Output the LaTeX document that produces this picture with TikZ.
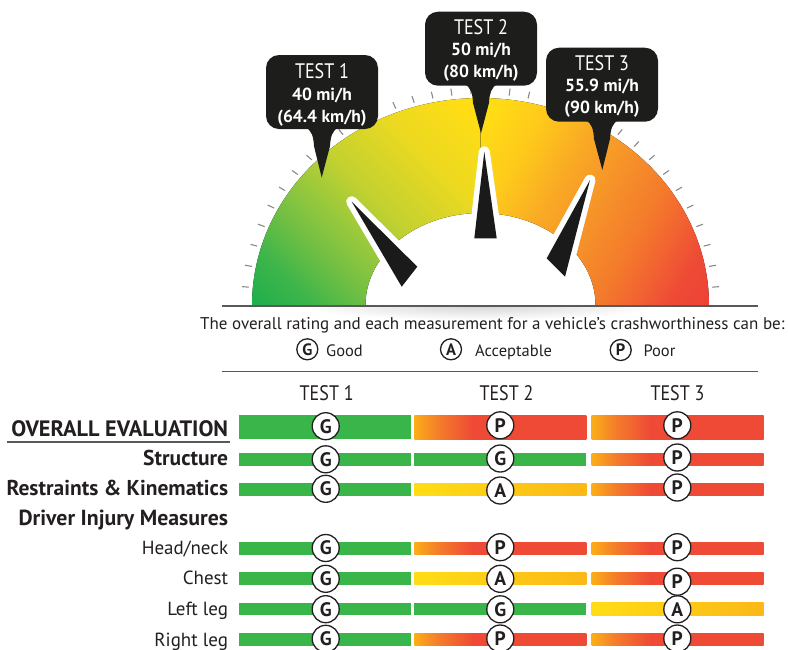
\documentclass[tikz,border=0pt]{standalone}
\usepackage{fontspec}
\setmainfont{PT Sans}
\newfontfamily\condfont[FakeStretch=0.86]{PT Sans}
\usetikzlibrary{calc}
\newcommand{\myfs}[1]{\fontsize{#1}{#1}\selectfont}
\definecolor{txt}{HTML}{231F20}
\definecolor{rulec}{HTML}{58595B}
\definecolor{tickgray}{HTML}{8A8A8A}
\definecolor{ndark}{HTML}{1A1A1A}
\definecolor{calloutc}{HTML}{1D1D1B}
\definecolor{barG}{HTML}{39B54A}
\definecolor{barR}{HTML}{EF4A36}
\definecolor{pOr}{HTML}{FBAE18}
\definecolor{pMid}{HTML}{F47D2A}
\definecolor{aY}{HTML}{FFDD15}
\definecolor{aO}{HTML}{FBB817}
\definecolor{gl0}{HTML}{1FAF4B}
\definecolor{gl1}{HTML}{3DB54A}
\definecolor{gl2}{HTML}{6EBE44}
\definecolor{gl3}{HTML}{8DC63F}
\definecolor{gl4}{HTML}{C3D130}
\definecolor{gl5}{HTML}{EDD920}
\definecolor{gl6}{HTML}{FFDD15}
\definecolor{gr0}{HTML}{FFDD15}
\definecolor{gr1}{HTML}{FEC91B}
\definecolor{gr2}{HTML}{F9A825}
\definecolor{gr3}{HTML}{F58A2A}
\definecolor{gr4}{HTML}{F47B2B}
\definecolor{gr5}{HTML}{F26531}
\definecolor{gr6}{HTML}{EE4A36}
\definecolor{gr7}{HTML}{EE4136}
\pgfdeclarehorizontalshading{gaugeL}{100bp}{color(0bp)=(gl0); color(34bp)=(gl0); color(38bp)=(gl1); color(42bp)=(gl2); color(45bp)=(gl3); color(50bp)=(gl4); color(57bp)=(gl5); color(63bp)=(gl6); color(100bp)=(gl6)}
\pgfdeclarehorizontalshading{gaugeR}{100bp}{color(0bp)=(gr0); color(41bp)=(gr0); color(46bp)=(gr1); color(51bp)=(gr2); color(57bp)=(gr3); color(60bp)=(gr4); color(63bp)=(gr5); color(66.5bp)=(gr6); color(70bp)=(gr7); color(100bp)=(gr7)}
\pgfdeclarehorizontalshading{poorbar}{100bp}{color(0bp)=(pOr); color(25bp)=(pOr); color(32bp)=(pMid); color(42bp)=(barR); color(100bp)=(barR)}
\pgfdeclarehorizontalshading{accbar}{100bp}{color(0bp)=(aY); color(25bp)=(aY); color(75bp)=(aO); color(100bp)=(aO)}
\newcommand{\callspike}[2]{%
  \fill[calloutc] ($(#1.south)+(-17,-2)$) .. controls ($(#1.south)+(-10,1)$) and ($(#1.south)+(-8.5,8)$) .. ($(#1.south)+(-8,17)$) -- (#2) -- ($(#1.south)+(8,17)$) .. controls ($(#1.south)+(8.5,8)$) and ($(#1.south)+(10,1)$) .. ($(#1.south)+(17,-2)$) -- cycle;}
\begin{document}
\begin{tikzpicture}[x=1pt,y=-1pt,
  tickmark/.style={draw=tickgray, line width=1.1pt},
  rulegray/.style={draw=rulec, line width=1.5pt},
  needlewhite/.style={draw=white, line width=11pt, line join=round},
  needleblack/.style={fill=ndark},
  callbox/.style={rectangle, rounded corners=13pt, fill=calloutc, minimum width=112pt, minimum height=74pt, inner sep=0pt},
  calltop/.style={anchor=base, text=white, inner sep=0pt, font=\condfont\myfs{21}},
  callsub/.style={anchor=base, text=white, inner sep=0pt, font=\myfs{17.5}\bfseries},
  lblbold/.style={anchor=base east, inner sep=0pt, text=txt, font=\myfs{21.5}\bfseries},
  lblreg/.style={anchor=base east, inner sep=0pt, text=txt, font=\myfs{19}},
  headtxt/.style={anchor=base, inner sep=0pt, text=txt, font=\condfont\myfs{21}},
  legtxt/.style={anchor=base west, inner sep=0pt, text=txt, font=\myfs{16.5}},
  legc/.style={circle, draw=txt, line width=1.3pt, minimum size=21pt, inner sep=0pt, text=txt, font=\myfs{16.5}\bfseries},
  cell/.style={rectangle, inner sep=0pt, outer sep=0pt, minimum width=172pt},
  thinbar/.style={cell, minimum height=12.4pt},
  widebar/.style={cell, minimum height=24.3pt},
  cG/.style={fill=barG},
  cP/.style={shading=poorbar},
  cA/.style={shading=accbar},
  rate/.style={circle, draw=txt, line width=1.3pt, fill=white, minimum size=27pt, inner sep=0pt, text=txt, font=\myfs{19.5}\bfseries}
]
\useasboundingbox (0,0) rectangle (788,649);

% tick marks
\foreach \k in {0,...,33}{
  \pgfmathsetmacro\ang{175.6-\k*5.1879}
  \pgfmathsetmacro\rr{207/sqrt(0.8207*cos(\ang)*cos(\ang)+sin(\ang)*sin(\ang))}
  \draw[tickmark] ({480.5+(\rr+4)*cos(\ang)},{305-(\rr+4)*sin(\ang)}) -- ({480.5+(\rr+11)*cos(\ang)},{305-(\rr+11)*sin(\ang)});
}

% gauge band, left half
\begin{scope}
  \clip plot[domain=180:270,samples=60] ({480.5+228.5*cos(\x)},{305+207*sin(\x)}) -- plot[domain=270:180,samples=40] ({480.5+115*cos(\x)},{305+92*sin(\x)}) -- cycle;
  \fill[shading=gaugeL, shading angle=45] (230.5,55) rectangle (730.5,555);
\end{scope}
% gauge band, right half
\begin{scope}
  \clip plot[domain=270:360,samples=60] ({480.5+228.5*cos(\x)},{305+207*sin(\x)}) -- plot[domain=360:270,samples=40] ({480.5+115*cos(\x)},{305+92*sin(\x)}) -- cycle;
  \fill[shading=gaugeR, shading angle=-30] (230.5,55) rectangle (730.5,555);
\end{scope}

% soft shadow under the base line
\begin{scope}
  \clip (221.7,306) rectangle (758.3,325);
  \fill[inner color=black!16, outer color=white] (300,292) rectangle (661,320);
\end{scope}
\draw[rulegray] (221.7,306) -- (758.3,306);

% needles
\draw[needlewhite] (351.7,201.7) -- (417.3,266.7) -- (401.7,286.7) -- cycle;
\fill[needleblack] (351.7,201.7) -- (417.3,266.7) -- (401.7,286.7) -- cycle;
\draw[needlewhite] (484.3,151.7) -- (496.7,238.3) -- (474.3,238.3) -- cycle;
\fill[needleblack] (484.3,151.7) -- (496.7,238.3) -- (474.3,238.3) -- cycle;
\draw[needlewhite] (590,180) -- (565,276.7) -- (546.7,258.3) -- cycle;
\fill[needleblack] (590,180) -- (565,276.7) -- (546.7,258.3) -- cycle;

% callouts
\node[callbox] (c1) at (322,92) {};
\coordinate (t1) at (321.7,177.5);
\callspike{c1}{t1}
\node[calltop] (c1a) at (322,78.3) {TEST 1};
\node[callsub] (c1b) at (322,100.7) {40 mi/h};
\node[callsub] (c1c) at (322,122) {(64.4 km/h)};

\node[callbox] (c2) at (481,48.7) {};
\coordinate (t2) at (481,133.3);
\callspike{c2}{t2}
\node[calltop] (c2a) at (481,34) {TEST 2};
\node[callsub] (c2b) at (481,55.5) {50 mi/h};
\node[callsub] (c2c) at (481,77) {(80 km/h)};

\node[callbox] (c3) at (602,84.7) {};
\coordinate (t3) at (602.3,170);
\callspike{c3}{t3}
\node[calltop] (c3a) at (602,70) {TEST 3};
\node[callsub] (c3b) at (602,91.7) {55.9 mi/h};
\node[callsub] (c3c) at (602,113.5) {(90 km/h)};

% legend
\node[anchor=base west, inner sep=0pt, text=txt, font=\myfs{17}] (intro) at (200,329.3) {The overall rating and each measurement for a vehicle’s crashworthiness can be:};
\node[legc] (lg) at (307.3,349.3) {G};
\node[legtxt] (lgt) at (326,356.7) {Good};
\node[legc] (la) at (451,349.3) {A};
\node[legtxt] (lat) at (475,356.7) {Acceptable};
\node[legc] (lp) at (620.7,350) {P};
\node[legtxt] (lpt) at (643.3,356.7) {Poor};
\draw[rulegray] (221.7,371.7) -- (758.3,371.7);

% column heads
\node[headtxt] (h1) at (326.7,400) {TEST 1};
\node[headtxt] (h2) at (506.5,400) {TEST 2};
\node[headtxt] (h3) at (677.5,400) {TEST 3};

% row labels
\node[lblbold, font=\myfs{22.3}\bfseries] (ovl) at (228.3,436) {OVERALL EVALUATION};
\draw[rulegray, line width=1.8pt] ($(ovl.base west)+(-4.4,5.7)$) -- ($(ovl.base east)+(1.7,5.7)$);
\node[lblbold] (stl) at (228.3,465.7) {Structure};
\node[lblbold] (rel) at (228.3,495.7) {Restraints \& Kinematics};
\node[lblbold, font=\myfs{21.8}\bfseries] (drl) at (228.3,525.7) {Driver Injury Measures};
\node[lblreg] (hnl) at (228.3,554.3) {Head/neck};
\node[lblreg] (chl) at (228.3,584.3) {Chest};
\node[lblreg] (lll) at (228.3,615) {Left leg};
\node[lblreg] (rll) at (228.3,646) {Right leg};

% bars, column 1
\node[widebar,cG] (b1o) at (325,427.15) {};
\node[thinbar,cG] (b1s) at (325,459.5) {};
\node[thinbar,cG] (b1r) at (325,489.5) {};
\node[thinbar,cG] (b1h) at (325,548.3) {};
\node[thinbar,cG] (b1c) at (325,578.3) {};
\node[thinbar,cG] (b1l) at (325,608.85) {};
\node[thinbar,cG] (b1g) at (325,639.65) {};
% bars, column 2
\node[widebar,cP] (b2o) at (500.35,427.15) {};
\node[thinbar,cG] (b2s) at (500.35,459.5) {};
\node[thinbar,cA] (b2r) at (500.35,489.5) {};
\node[thinbar,cP] (b2h) at (500.35,548.3) {};
\node[thinbar,cA] (b2c) at (500.35,578.3) {};
\node[thinbar,cG] (b2l) at (500.35,608.85) {};
\node[thinbar,cP] (b2g) at (500.35,639.65) {};
% bars, column 3
\node[widebar,cP] (b3o) at (677.5,427.15) {};
\node[thinbar,cP] (b3s) at (677.5,459.5) {};
\node[thinbar,cP] (b3r) at (677.5,489.5) {};
\node[thinbar,cP] (b3h) at (677.5,548.3) {};
\node[thinbar,cP] (b3c) at (677.5,578.3) {};
\node[thinbar,cA] (b3l) at (677.5,608.85) {};
\node[thinbar,cP] (b3g) at (677.5,639.65) {};

% rating marks
\node[rate] (r1o) at (325.7,426.2) {G};
\node[rate] (r1s) at (325.7,459.3) {G};
\node[rate] (r1r) at (325.7,488.8) {G};
\node[rate] (r1h) at (325.7,548) {G};
\node[rate] (r1c) at (325.7,578.8) {G};
\node[rate] (r1l) at (325.7,609.2) {G};
\node[rate] (r1g) at (325.7,638.8) {G};
\node[rate] (r2o) at (500.3,425.3) {P};
\node[rate] (r2s) at (500.3,458.5) {G};
\node[rate] (r2r) at (500.3,490.5) {A};
\node[rate] (r2h) at (500.3,547.2) {P};
\node[rate] (r2c) at (500.3,578.8) {A};
\node[rate] (r2l) at (500.3,609.3) {G};
\node[rate] (r2g) at (500.3,638.5) {P};
\node[rate] (r3o) at (677.3,425.3) {P};
\node[rate] (r3s) at (677.3,457.5) {P};
\node[rate] (r3r) at (677.3,487.5) {P};
\node[rate] (r3h) at (677.3,547.2) {P};
\node[rate] (r3c) at (677.3,581.7) {P};
\node[rate] (r3l) at (677.3,609.3) {A};
\node[rate] (r3g) at (677.3,638.5) {P};
\end{tikzpicture}
\end{document}
